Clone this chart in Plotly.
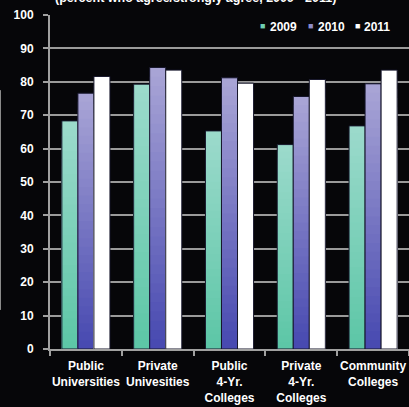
import plotly.graph_objects as go

# Survey results by institution type
categories = ["Public<br>Universities", "Private<br>Univesities", "Public<br>4-Yr.<br>Colleges",
              "Private<br>4-Yr.<br>Colleges", "Community<br>Colleges"]
years = ["2009", "2010", "2011"]
values_2009 = [68.3, 79.3, 65.3, 61.2, 66.8]
values_2010 = [76.6, 84.3, 81.2, 75.6, 79.4]
values_2011 = [81.6, 83.5, 79.6, 80.7, 83.5]
y_ticks = [0, 10, 20, 30, 40, 50, 60, 70, 80, 90, 100]

series = {"2009": values_2009, "2010": values_2010, "2011": values_2011}
# bottom colour, top colour of each bar's vertical gradient
gradients = {
    "2009": ((92, 198, 166), (156, 218, 204)),
    "2010": ((70, 72, 176), (170, 166, 214)),
    "2011": ((255, 255, 255), (255, 255, 255)),
}
legend_colors = {"2009": "#6fcfb2", "2010": "#8c8cc8", "2011": "#ffffff"}

FONT = "Liberation Sans, Arial, sans-serif"
N_STEPS = 30

fig = go.Figure()
for yr in years:
    vals = series[yr]
    (r0, g0, b0), (r1, g1, b1) = gradients[yr]
    # overlapping bars from the full height down, each a little darker -> smooth gradient
    for i in range(N_STEPS):
        frac = (N_STEPS - i) / N_STEPS
        t = frac - 0.5 / N_STEPS
        col = f"rgb({round(r0 + (r1 - r0) * t)},{round(g0 + (g1 - g0) * t)},{round(b0 + (b1 - b0) * t)})"
        fig.add_trace(go.Bar(
            x=categories, y=[v * frac for v in vals],
            offsetgroup=yr, marker=dict(color=col, line=dict(width=0)),
            showlegend=False, hoverinfo="skip",
        ))
    # thin dark outline around the full bar
    fig.add_trace(go.Bar(
        x=categories, y=vals, offsetgroup=yr, name=yr,
        marker=dict(color="rgba(0,0,0,0)", line=dict(color="#15152a", width=1)),
        showlegend=False,
    ))

fig.update_layout(
    width=409, height=407,
    margin=dict(l=50, r=0, t=15, b=58, autoexpand=False),
    paper_bgcolor="#060609", plot_bgcolor="#060609",
    barmode="group", bargap=0.33, bargroupgap=0,
    font=dict(family=FONT, color="white", size=12),
    showlegend=False,
)
fig.update_yaxes(
    range=[0, 100], tickvals=y_ticks, showgrid=True, gridcolor="#9a9a9a", gridwidth=1.6,
    showline=True, linecolor="#a0a0a0", linewidth=2, ticks="outside", ticklen=5,
    tickcolor="#a0a0a0", tickwidth=1.5, zeroline=False,
    tickfont=dict(family=FONT, size=12, color="white", weight="bold"), ticklabelstandoff=7,
)
fig.update_xaxes(
    showline=True, linecolor="#a0a0a0", linewidth=2, ticks="outside", tickson="boundaries",
    ticklen=5, tickcolor="#a0a0a0", tickwidth=1.5, tickangle=0, automargin=False,
    tickfont=dict(family=FONT, size=12, color="white", weight="bold"), ticklabelstandoff=5,
)

# legend row: colour square + year label
legend_sq_x = [258, 306, 353]
legend_tx_x = [268, 316, 362]
for yr, sx, tx in zip(years, legend_sq_x, legend_tx_x):
    fig.add_annotation(
        xref="paper", yref="paper", x=(sx - 50) / 359, y=0.966, xanchor="left", yanchor="middle",
        text="■", showarrow=False, font=dict(family=FONT, size=9, color=legend_colors[yr]),
    )
    fig.add_annotation(
        xref="paper", yref="paper", x=(tx - 50) / 359, y=0.964, xanchor="left", yanchor="middle",
        text=yr, showarrow=False,
        font=dict(family=FONT, size=12, color="white", weight="bold"),
    )

# chart subtitle running off the top edge
fig.add_annotation(
    xref="paper", yref="paper", x=0.008, y=1.05, xanchor="left", yanchor="middle",
    text="(percent who agree/strongly agree, 2009 - 2011)", showarrow=False,
    font=dict(family=FONT, size=12.5, color="white", weight="bold"),
)

# thin grey edge line on the left border
fig.add_shape(
    type="line", xref="paper", yref="paper", x0=-49.5 / 359, x1=-49.5 / 359,
    y0=0.117, y1=0.775, line=dict(color="#8a8a8a", width=1),
)

fig.write_html("out.html")
